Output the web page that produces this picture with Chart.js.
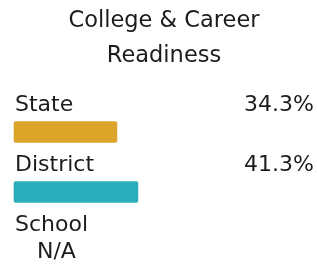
<!DOCTYPE html>
<html>
<head>
<meta charset="utf-8">
<script src="https://cdn.jsdelivr.net/npm/chart.js@4/dist/chart.umd.min.js"></script>
<style>
html,body{margin:0;padding:0;background:#fff;}
#wrap{width:317px;height:266px;position:relative;}
</style>
</head>
<body>
<div id="wrap"><canvas id="c"></canvas></div>
<script>
const titleLines = ['College & Career', 'Readiness'];
const categories = ['State', 'District', 'School'];
const values = [34.3, 41.3, null];
const valueLabels = ['34.3%', '41.3%', 'N/A'];
const barColors = ['#DBA52A', '#2AADBA', '#888888'];

const FONT = "'DejaVu Sans', sans-serif";
const TEXT = '#1c1c1c';

const labelPlugin = {
  id: 'rowLabels',
  afterDatasetsDraw(chart) {
    const ctx = chart.ctx;
    const ys = chart.scales.y;
    const area = chart.chartArea;
    ctx.save();
    ctx.fillStyle = TEXT;
    ctx.font = '22px ' + FONT;
    categories.forEach((cat, i) => {
      const yc = ys.getPixelForValue(i);
      ctx.textBaseline = 'alphabetic';
      ctx.textAlign = 'left';
      ctx.fillText(cat, area.left + 1, yc - 21);
      if (values[i] === null || values[i] === undefined) {
        ctx.textBaseline = 'middle';
        ctx.textAlign = 'left';
        ctx.fillText(valueLabels[i], area.left + 23, yc);
      } else {
        ctx.textAlign = 'right';
        ctx.fillText(valueLabels[i], area.right, yc - 21);
      }
    });
    ctx.restore();
  }
};

new Chart(document.getElementById('c'), {
  type: 'bar',
  data: {
    labels: categories,
    datasets: [{
      data: values,
      backgroundColor: barColors,
      borderWidth: 0,
      borderRadius: 2,
      borderSkipped: false,
      barThickness: 21,
      clip: false
    }]
  },
  options: {
    indexAxis: 'y',
    responsive: true,
    maintainAspectRatio: false,
    animation: false,
    layout: { padding: { left: 14, right: 3, top: 0, bottom: 14 } },
    scales: {
      x: { display: false, min: 0, max: 100 },
      y: { display: false, offset: false }
    },
    plugins: {
      legend: { display: false },
      tooltip: { enabled: false },
      title: {
        display: true,
        text: titleLines,
        color: TEXT,
        font: { family: FONT, size: 22.5, weight: 'normal', lineHeight: 1.556 },
        padding: { top: 4, bottom: 58 }
      }
    }
  },
  plugins: [labelPlugin]
});
</script>
</body>
</html>
